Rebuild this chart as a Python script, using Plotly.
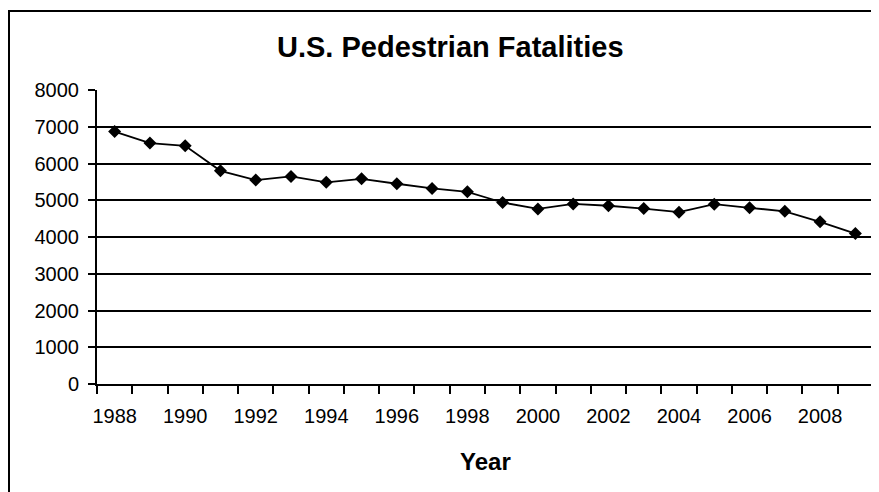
import plotly.graph_objects as go

years = list(range(1988, 2010))
fatalities = [6870, 6556, 6482, 5801, 5549, 5649, 5489, 5584, 5449, 5321, 5228,
              4939, 4763, 4901, 4851, 4774, 4675, 4892, 4795, 4699, 4414, 4092]
title_text = "U.S. Pedestrian Fatalities"
x_title = "Year"

FONT = "Arial, Liberation Sans, sans-serif"

fig = go.Figure()
fig.add_trace(go.Scatter(
    x=years, y=fatalities, mode="lines+markers",
    line=dict(color="black", width=1.8),
    marker=dict(symbol="diamond", size=10, color="black"),
    showlegend=False,
))

# the page body has an 8px margin, so the figure is drawn 8px in from the corner
OFF = 8
W, H = 879 - OFF, 492 - OFF
L, R, T, B = 97 - OFF, 6, 90 - OFF, 108
pw, ph = W - L - R, H - T - B

def px(x):
    return (x - OFF - L) / pw

def py(y):
    return (H - B - (y - OFF)) / ph

fig.update_layout(
    width=W, height=H,
    margin=dict(l=L, r=R, t=T, b=B),
    paper_bgcolor="white", plot_bgcolor="white",
    font=dict(family=FONT, color="black", size=20),
    xaxis=dict(
        range=[1987.5, 2009.5], tick0=1988, dtick=2,
        showgrid=False, zeroline=False,
        showline=True, linecolor="black", linewidth=2,
        ticks="", ticklabelstandoff=13,
        tickfont=dict(size=20, family=FONT),
        minor=dict(ticks="outside", tick0=1987.5, dtick=1, ticklen=8,
                   tickcolor="black", tickwidth=2, showgrid=False),
    ),
    yaxis=dict(
        range=[0, 8000], dtick=1000,
        showgrid=True, gridcolor="black", gridwidth=2,
        zeroline=False,
        showline=True, linecolor="black", linewidth=2,
        ticks="outside", ticklen=7, tickcolor="black", tickwidth=2,
        ticklabelstandoff=5,
        tickfont=dict(size=20, family=FONT),
    ),
    shapes=[dict(type="rect", xref="paper", yref="paper",
                 x0=px(9), x1=px(900), y0=py(520), y1=py(11),
                 line=dict(color="black", width=2), layer="below")],
    annotations=[
        dict(text="<b>" + title_text + "</b>", xref="paper", yref="paper",
             x=px(450), y=py(47), xanchor="center", yanchor="middle",
             showarrow=False, font=dict(size=29, family=FONT)),
        dict(text="<b>" + x_title + "</b>", xref="paper", yref="paper",
             x=px(485), y=py(461), xanchor="center", yanchor="middle",
             showarrow=False, font=dict(size=24, family=FONT)),
    ],
)

fig.write_html("out.html")
